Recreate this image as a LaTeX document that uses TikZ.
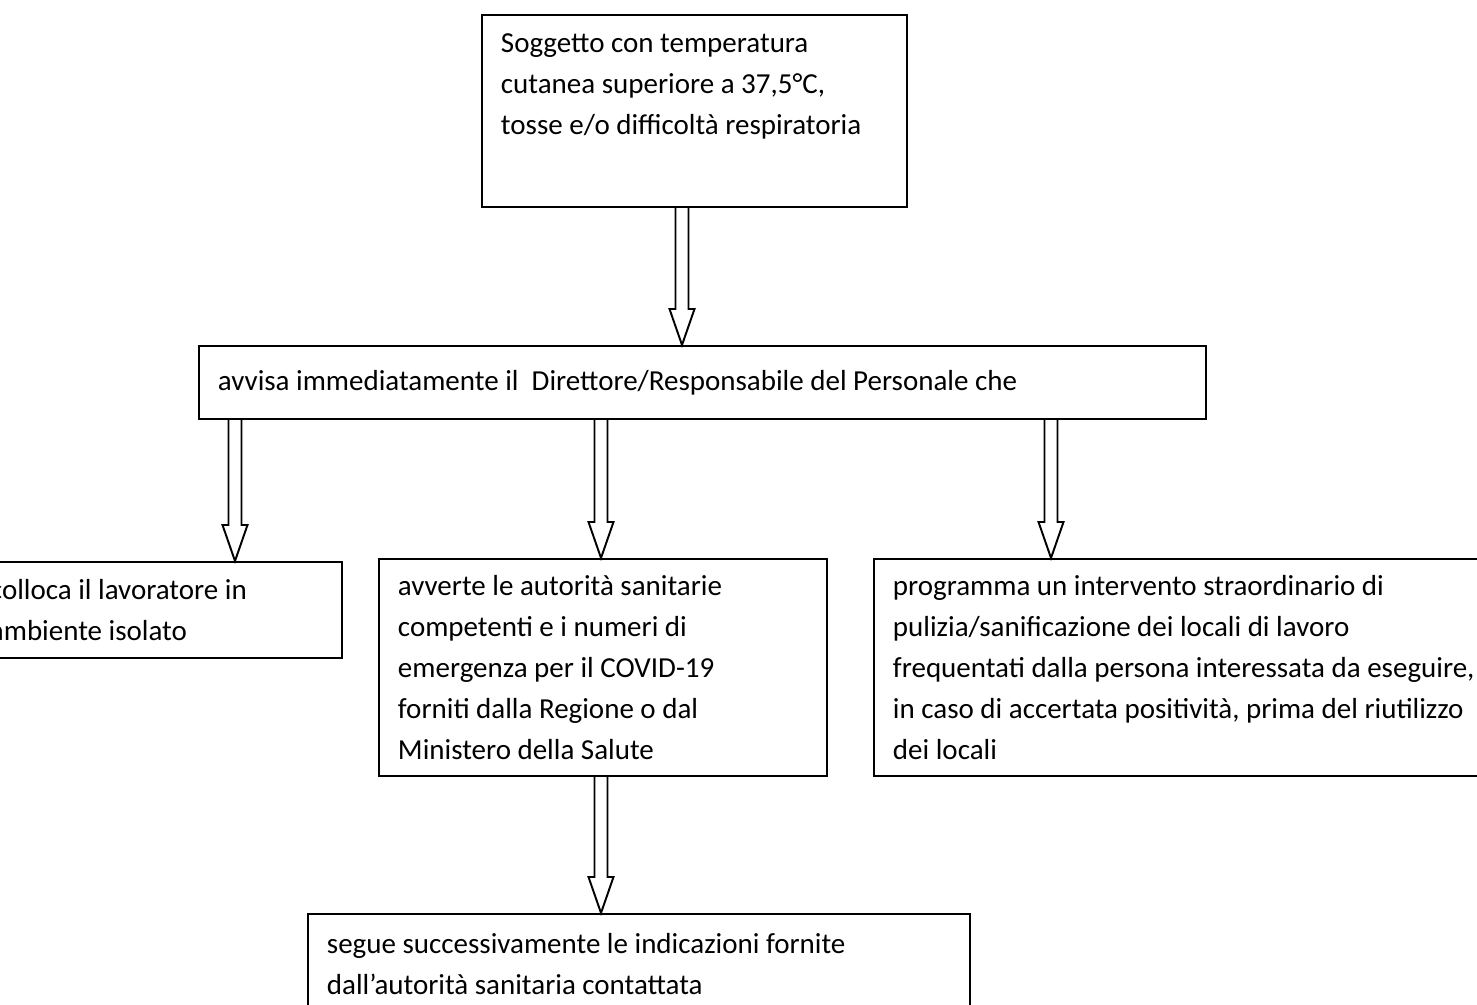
\documentclass[tikz,border=0pt]{standalone}
\usepackage{fontspec}
\setmainfont{Carlito}
\usetikzlibrary{calc,positioning}
\tikzset{
 box/.style={draw,line width=1.1pt,anchor=north west,align=flush left,inner xsep=0.38cm,font=\fontsize{16.5}{23.3}\selectfont},
 hollow/.style={line width=1.1pt,line join=miter}
}
\begin{document}
\begin{tikzpicture}
\useasboundingbox(0,0)rectangle(29.54,-20.1);
\clip(0,0)rectangle(29.54,-20.1);
\node[box,inner ysep=0.37cm](sogg)at(9.62,-0.28){\parbox[c][3.1cm][t]{7.74cm}{\raggedright Soggetto con temperatura\\cutanea superiore a 37,5°C,\\tosse e/o difficoltà respiratoria}};
\node[box,text width=19.38cm,minimum height=1.46cm](avv)at(3.96,-6.9){avvisa immediatamente il\ \ Direttore/Responsabile del Personale che};
\node[box,text width=6.66cm,minimum height=1.92cm](coll)at(-0.6,-11.22){colloca il lavoratore in\\ambiente isolato};
\node[box,text width=8.2cm,minimum height=4.34cm](avv2)at(7.56,-11.16){avverte le autorità sanitarie\\competenti e i numeri di\\emergenza per il COVID-19\\forniti dalla Regione o dal\\Ministero della Salute};
\node[box,text width=12.04cm,minimum height=4.34cm](prog)at(17.46,-11.16){programma un intervento straordinario di\\pulizia/sanificazione dei locali di lavoro\\frequentati dalla persona interessata da eseguire,\\in caso di accertata positività, prima del riutilizzo\\dei locali};
\node[box,inner ysep=0.38cm](segue)at(6.14,-18.26){\parbox[c][2cm][t]{12.48cm}{\raggedright segue successivamente le indicazioni fornite\\dall’autorità sanitaria contattata}};
\foreach \ax/\a/\b in {13.64/sogg/avv,4.70/avv/coll,12.02/avv/avv2,21.02/avv/prog,12.02/avv2/segue}
\draw[hollow]let \p1=(\a.south),\p2=(\b.north) in
(\ax cm-0.13cm,\y1)--(\ax cm-0.13cm,\y2+0.72cm)--(\ax cm-0.25cm,\y2+0.72cm)--(\ax cm,\y2)
--(\ax cm+0.25cm,\y2+0.72cm)--(\ax cm+0.13cm,\y2+0.72cm)--(\ax cm+0.13cm,\y1);
\end{tikzpicture}
\end{document}
